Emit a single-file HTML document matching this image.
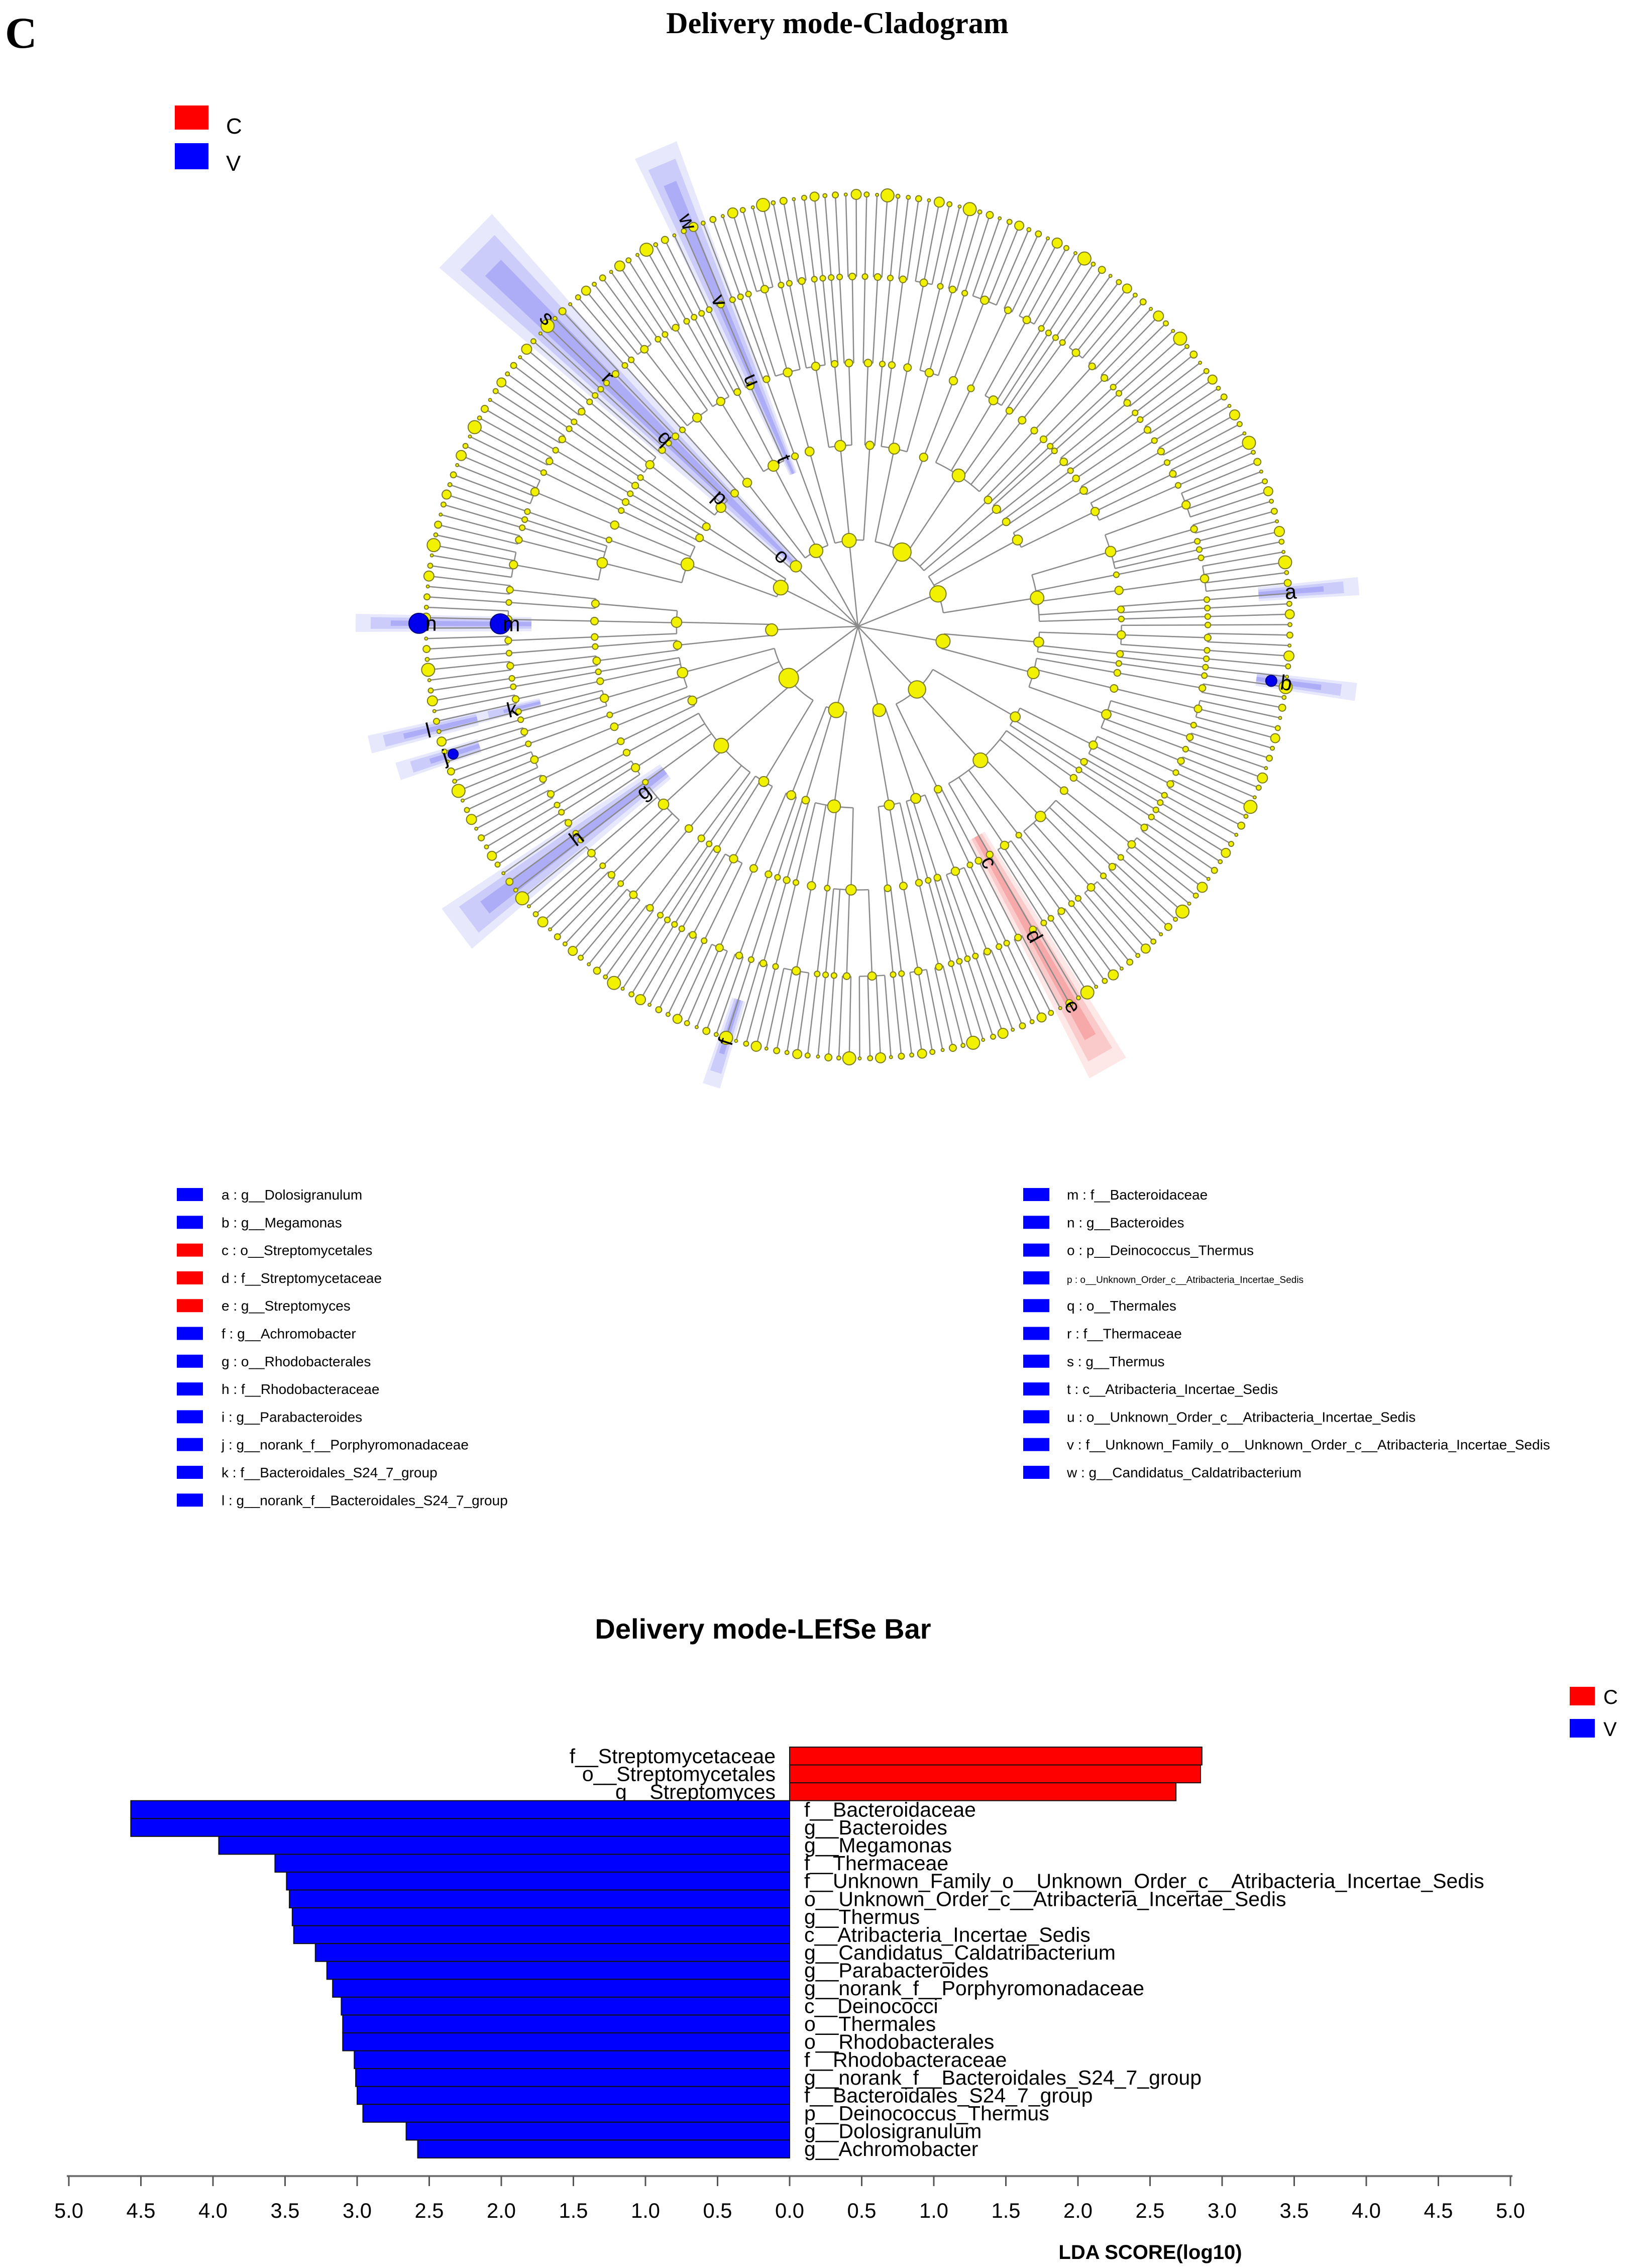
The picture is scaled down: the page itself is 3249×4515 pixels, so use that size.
<!DOCTYPE html>
<html><head><meta charset="utf-8"><style>
html,body{margin:0;padding:0;background:#fff}
svg{display:block}
</style></head><body>
<svg id="fig" xmlns="http://www.w3.org/2000/svg" width="3249" height="4515" viewBox="0 0 3249 4515">
<rect width="3249" height="4515" fill="#fff"/>
<text x="10" y="95" font-family="Liberation Serif, serif" font-weight="bold" font-size="88">C</text>
<text x="1667" y="66" text-anchor="middle" font-family="Liberation Serif, serif" font-weight="bold" font-size="60">Delivery mode-Cladogram</text>
<g>
<rect x="348" y="210" width="67" height="48" fill="#f00"/>
<text x="450" y="266" font-family="Liberation Sans, sans-serif" font-size="44">C</text>
<rect x="348" y="285" width="67" height="52" fill="#00f"/>
<text x="450" y="340" font-family="Liberation Sans, sans-serif" font-size="44">V</text>
</g>
<g id="clado"></g>
<g id="keylegend"></g>
<text x="1519" y="3262" text-anchor="middle" font-family="Liberation Sans, sans-serif" font-weight="bold" font-size="56">Delivery mode-LEfSe Bar</text>
<g>
<rect x="3125" y="3358" width="50" height="37" fill="#f00"/>
<text x="3192" y="3392" font-family="Liberation Sans, sans-serif" font-size="40">C</text>
<rect x="3125" y="3422" width="50" height="37" fill="#00f"/>
<text x="3192" y="3456" font-family="Liberation Sans, sans-serif" font-size="40">V</text>
</g>
<g id="bars"></g>
<text x="2290" y="4497" text-anchor="middle" font-family="Liberation Sans, sans-serif" font-weight="bold" font-size="40">LDA SCORE(log10)</text>
</svg>
<script>
const NS="http://www.w3.org/2000/svg";
function mk(tag,attrs,parent){const e=document.createElementNS(NS,tag);for(const k in attrs)e.setAttribute(k,attrs[k]);parent.appendChild(e);return e;}

/* ---------- LEfSe bar data ---------- */
const barNames=["f__Streptomycetaceae","o__Streptomycetales","g__Streptomyces","f__Bacteroidaceae","g__Bacteroides","g__Megamonas","f__Thermaceae","f__Unknown_Family_o__Unknown_Order_c__Atribacteria_Incertae_Sedis","o__Unknown_Order_c__Atribacteria_Incertae_Sedis","g__Thermus","c__Atribacteria_Incertae_Sedis","g__Candidatus_Caldatribacterium","g__Parabacteroides","g__norank_f__Porphyromonadaceae","c__Deinococci","o__Thermales","o__Rhodobacterales","f__Rhodobacteraceae","g__norank_f__Bacteroidales_S24_7_group","f__Bacteroidales_S24_7_group","p__Deinococcus_Thermus","g__Dolosigranulum","g__Achromobacter"];
const barValues=[2.86,2.85,2.68,4.57,4.57,3.96,3.57,3.49,3.47,3.45,3.44,3.29,3.21,3.17,3.11,3.10,3.10,3.02,3.01,3.00,2.96,2.66,2.58];
const barGroups=["C","C","C","V","V","V","V","V","V","V","V","V","V","V","V","V","V","V","V","V","V","V","V"];
const tickValues=[-5,-4.5,-4,-3.5,-3,-2.5,-2,-1.5,-1,-0.5,0,0.5,1,1.5,2,2.5,3,3.5,4,4.5,5];
const tickLabels=["5.0","4.5","4.0","3.5","3.0","2.5","2.0","1.5","1.0","0.5","0.0","0.5","1.0","1.5","2.0","2.5","3.0","3.5","4.0","4.5","5.0"];

(function(){
  const g=document.getElementById('bars');
  const zero=1572, unit=287, top=3478, bh=35.56;
  const x=v=>zero+v*unit;
  const y=i=>top+i*bh;
  barNames.forEach((n,i)=>{
    const v=barValues[i], c=barGroups[i]==="C";
    const x0=c?x(0):x(-v), w=v*unit;
    const r=mk('rect',{x:x0,y:y(i),width:w,height:bh,fill:c?"#f00":"#00f",stroke:"#111","stroke-width":2},g);
    
    
    const t=mk('text',{x:c?1544:1601,y:y(i)+bh/2+14,"text-anchor":c?"end":"start","font-family":"Liberation Sans, sans-serif","font-size":41},g);
    t.textContent=n;
    
    
  });
  const ax=mk('line',{x1:x(-5)-4,x2:x(5)+4,y1:4332,y2:4332,stroke:"#777","stroke-width":4},g);
  
  
  tickValues.forEach((v,i)=>{
    const tk=mk('line',{x1:x(v),x2:x(v),y1:4332,y2:4352,stroke:"#555","stroke-width":3},g);
    
    
    const tl=mk('text',{x:x(v),y:4415,"text-anchor":"middle","font-family":"Liberation Sans, sans-serif","font-size":42,textLength:58,lengthAdjust:"spacingAndGlyphs"},g);
    tl.textContent=tickLabels[i];
    
    
  });
})();

/* ---------- Clade key legend ---------- */
const keyLeft=[["a : g__Dolosigranulum","#00f"],["b : g__Megamonas","#00f"],["c : o__Streptomycetales","#f00"],["d : f__Streptomycetaceae","#f00"],["e : g__Streptomyces","#f00"],["f : g__Achromobacter","#00f"],["g : o__Rhodobacterales","#00f"],["h : f__Rhodobacteraceae","#00f"],["i : g__Parabacteroides","#00f"],["j : g__norank_f__Porphyromonadaceae","#00f"],["k : f__Bacteroidales_S24_7_group","#00f"],["l : g__norank_f__Bacteroidales_S24_7_group","#00f"]];
const keyRight=[["m : f__Bacteroidaceae","#00f"],["n : g__Bacteroides","#00f"],["o : p__Deinococcus_Thermus","#00f"],["p : o__Unknown_Order_c__Atribacteria_Incertae_Sedis","#00f"],["q : o__Thermales","#00f"],["r : f__Thermaceae","#00f"],["s : g__Thermus","#00f"],["t : c__Atribacteria_Incertae_Sedis","#00f"],["u : o__Unknown_Order_c__Atribacteria_Incertae_Sedis","#00f"],["v : f__Unknown_Family_o__Unknown_Order_c__Atribacteria_Incertae_Sedis","#00f"],["w : g__Candidatus_Caldatribacterium","#00f"]];
(function(){
  const g=document.getElementById('keylegend');
  function col(list,sx,tx){
    list.forEach((it,i)=>{
      const cy=2378+i*55.3;
      const r=mk('rect',{x:sx,y:cy-13,width:52,height:26,fill:it[1]},g);
      
      
      const small=it[0].startsWith("p :");
      const t=mk('text',{x:tx,y:cy+10,"font-family":"Liberation Sans, sans-serif","font-size":small?19:28},g);
      t.textContent=it[0];
      
      
    });
  }
  col(keyLeft,352,441);
  col(keyRight,2037,2124);
})();

/* ---------- Cladogram ---------- */
const phylaSizes=[34,26,18,30,14,22,40,12,20,10,16,18];
const classPattern=[9,4,14,3,7,20,5];
const orderPattern=[5,2,3,8,1,4,2];
const familyPattern=[2,1,3,1,4,2,1];
const leafSizes=[4,6,3,10,5,3,13,4,7,3,5,9];
const bandAngles=[-4.6,7.5,60.5,107.7,143,162.5,166.4,166.5,180.4,224.5,247];
const bandR0=[800,800,480,780,480,790,780,650,650,180,330];
const bandR1=[1000,1000,1010,960,1000,960,1000,780,1000,1095,1030];
const bandW0=[14,14,18,14,18,14,14,9,14,10,8];
const bandW1=[18,18,42,18,50,18,18,12,18,75,45];
const bandColor=["b","b","r","b","b","b","b","b","b","b","b"];
const letters=["a","b","c","d","e","f","g","h","j","k","l","m","n","o","p","q","r","s","t","u","v","w"];
const letterAngles=[-4.6,7.5,60.9,60.3,60.5,107.7,142.4,143.1,162.5,166.5,166.4,180.4,180.4,223,223.2,224.5,225,224.8,246.3,246.8,247,247.2];
const letterR=[864,860,537,709,869,868,539,701,862,708,880,690,850,206,376,537,703,872,365,534,705,874];

(function(){
  const g=document.getElementById('clado');
  const cx=1708, cy=1247, R=860;
  const radii=[0,0.2,0.42,0.61,0.81,1.0].map(f=>f*R);
  const pt=(a,r)=>[cx+r*Math.cos(a*Math.PI/180),cy+r*Math.sin(a*Math.PI/180)];
  const bg=mk('g',{},g);
  
  
  bandAngles.forEach((a,i)=>{
    const col=bandColor[i]==="r"?"#f04848":"#5050f0";
    [[1,0.13],[0.65,0.18],[0.3,0.25]].forEach(([s,op])=>{
      const n=[Math.cos((a+90)*Math.PI/180),Math.sin((a+90)*Math.PI/180)];
      const p0=pt(a,bandR0[i]),p1=pt(a,bandR1[i]*(s===1?1:(s===0.65?0.97:0.93)));
      const w0=bandW0[i]*s,w1=bandW1[i]*s;
      const poly=[[p0[0]+n[0]*w0,p0[1]+n[1]*w0],[p1[0]+n[0]*w1,p1[1]+n[1]*w1],[p1[0]-n[0]*w1,p1[1]-n[1]*w1],[p0[0]-n[0]*w0,p0[1]-n[1]*w0]];
      const e=mk('polygon',{points:poly.map(q=>q.join(',')).join(' '),fill:col,"fill-opacity":op},bg);
      
      
    });
  });
  const N=phylaSizes.reduce((a,b)=>a+b,0);
  let leafIdx=0, pc=0;
  const start=-84;
  function split(n,pat,off){const out=[];let k=off,rem=n;while(rem>0){const s=Math.min(pat[k%pat.length],rem);out.push(s);rem-=s;k++;}return out;}
  function build(n,level){
    if(level===5){const a=start+(leafIdx+0.5)*360/N;leafIdx++;return {a,level,n:1,ch:[]};}
    let sizes;
    if(level===1)sizes=split(n,classPattern,pc);
    else if(level===2)sizes=split(n,orderPattern,pc);
    else if(level===3)sizes=split(n,familyPattern,pc);
    else sizes=Array(n).fill(1);
    pc++;
    const ch=sizes.map(s=>build(s,level+1));
    const a=(ch[0].a+ch[ch.length-1].a)/2;
    return {a,level,n,ch};
  }
  const phyla=phylaSizes.map(s=>build(s,1));
  const lg=mk('g',{stroke:"#8a8a8a","stroke-width":2.5,fill:"none"},g);
  
  
  const cg=mk('g',{},g);
  
  
  let leafCount=0;
  function draw(node){
    const r=radii[node.level];
    if(node.ch.length>1){
      const a0=node.ch[0].a,a1=node.ch[node.ch.length-1].a;
      const p0=pt(a0,r),p1=pt(a1,r);
      const arc=mk('path',{d:`M${p0[0]},${p0[1]} A${r},${r} 0 ${a1-a0>180?1:0} 1 ${p1[0]},${p1[1]}`},lg);
      
      
    }
    node.ch.forEach(c=>{
      const q0=pt(c.a,r),q1=pt(c.a,radii[c.level]);
      const l=mk('line',{x1:q0[0],y1:q0[1],x2:q1[0],y2:q1[1]},lg);
      
      
      draw(c);
    });
    let rad;
    if(node.level===5){rad=leafSizes[leafCount%leafSizes.length];leafCount++;}
    else rad=Math.min(22,3+2.6*Math.sqrt(node.n));
    const p=pt(node.a,r);
    const c=mk('circle',{cx:p[0],cy:p[1],r:rad,fill:"#f2f200",stroke:"#7a7a20","stroke-width":2},cg);
    
    
  }
  phyla.forEach(p=>{
    const q=pt(p.a,radii[1]);
    const l=mk('line',{x1:cx,y1:cy,x2:q[0],y2:q[1]},lg);
    
    
    draw(p);
  });
  [[180.4,712,20],[180.4,874,20],[7.5,830,11],[162.5,845,10]].forEach(b=>{
    const p=pt(b[0],b[1]);
    const c=mk('circle',{cx:p[0],cy:p[1],r:b[2],fill:"#0000ee",stroke:"#000080","stroke-width":2},g);
    
    
  });
  letters.forEach((L,i)=>{
    const p=pt(letterAngles[i],letterR[i]);
    let rot=letterAngles[i];
    if(rot>90&&rot<270)rot-=180;
    const t=mk('text',{x:p[0],y:p[1],"text-anchor":"middle","dominant-baseline":"central","font-family":"Liberation Sans, sans-serif","font-size":42,transform:`rotate(${rot} ${p[0]} ${p[1]})`},g);
    t.textContent=L;
    
    
  });
})();
</script>
</body></html>
